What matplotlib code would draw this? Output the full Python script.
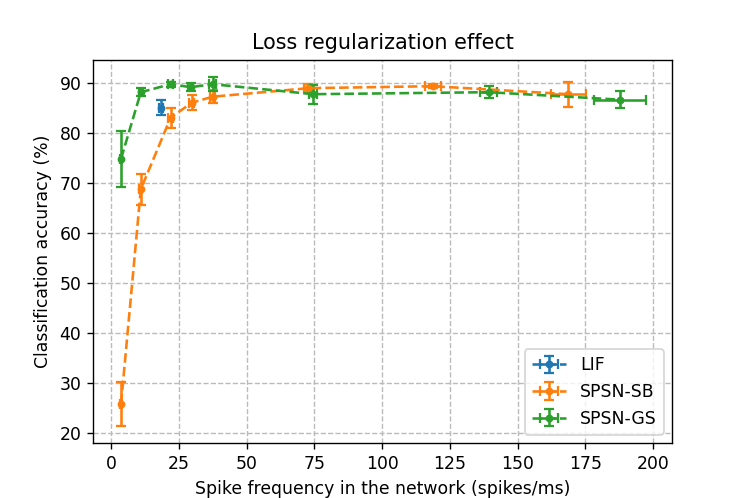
import matplotlib
matplotlib.use("Agg")
import matplotlib.pyplot as plt

lif_x = [18.4]
lif_xerr = [0.6]
lif_y = [85.1]
lif_yerr = [1.5]

sb_x = [3.7, 11.0, 22.0, 29.8, 37.5, 72.8, 118.8, 168.8]
sb_xerr = [0.5, 0.6, 0.8, 1.0, 1.0, 1.5, 3.0, 6.5]
sb_y = [25.9, 68.8, 83.1, 86.1, 87.3, 89.0, 89.4, 87.8]
sb_yerr = [4.4, 3.1, 2.0, 1.5, 1.3, 0.8, 0.4, 2.5]

gs_x = [3.7, 11.0, 22.0, 29.4, 37.5, 74.6, 139.3, 187.9]
gs_xerr = [0.5, 0.8, 1.0, 1.0, 1.2, 1.5, 3.0, 9.5]
gs_y = [74.9, 88.2, 89.8, 89.2, 89.8, 87.8, 88.2, 86.7]
gs_yerr = [5.6, 0.8, 0.5, 0.8, 1.4, 1.9, 1.2, 1.7]

fig, ax = plt.subplots(figsize=(6, 4), dpi=124.5)
kw = dict(fmt='o--', markersize=3.5, linewidth=1.5, elinewidth=1.5, capsize=3, capthick=1.3)
ax.errorbar(lif_x, lif_y, xerr=lif_xerr, yerr=lif_yerr, label='LIF', color='C0', **kw)
ax.errorbar(sb_x, sb_y, xerr=sb_xerr, yerr=sb_yerr, label='SPSN-SB', color='C1', **kw)
ax.errorbar(gs_x, gs_y, xerr=gs_xerr, yerr=gs_yerr, label='SPSN-GS', color='C2', **kw)
ax.grid(True, linestyle='--', color='#bbbbbb', linewidth=0.8)
ax.set_axisbelow(True)
ax.set_title('Loss regularization effect')
ax.set_xlabel('Spike frequency in the network (spikes/ms)')
ax.set_ylabel('Classification accuracy (%)')
ax.legend(loc='lower right')
fig.savefig('out.png', dpi=124.5)
